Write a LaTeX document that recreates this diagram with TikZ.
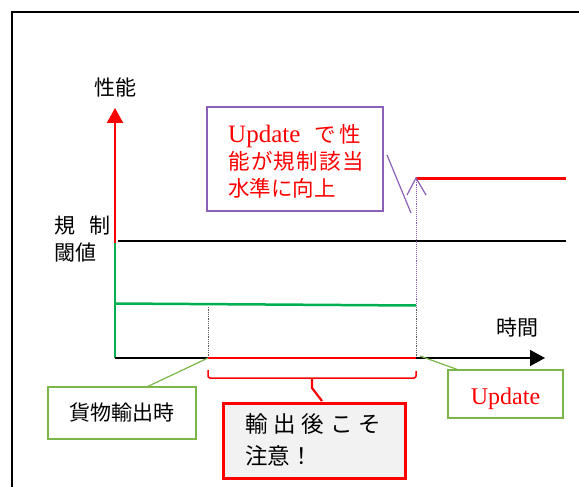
\documentclass[tikz,border=0pt]{standalone}
\usepackage{fontspec}
\setmainfont{Liberation Serif}
\newfontfamily\jp{Noto Sans CJK JP}
\usetikzlibrary{arrows.meta}
\definecolor{xred}{HTML}{FF0000}
\definecolor{xgreen}{HTML}{00B050}
\definecolor{cgreen}{HTML}{7AB648}
\definecolor{xpurple}{RGB}{140,95,185}
\definecolor{xgray}{HTML}{F2F2F2}
\tikzset{
  jptext/.style={font=\jp\fontsize{21}{27}\selectfont, inner sep=0pt},
  callgreen/.style={draw=cgreen, line width=1.3pt, inner sep=0pt},
  tipbig/.style={-{Triangle[width=16pt,length=15pt]}},
}
\begin{document}
\begin{tikzpicture}[x=1pt,y=-1pt]
\useasboundingbox (0,0) rectangle (579,487);
\begin{scope}
\clip (0,0) rectangle (579,487);
\draw[line width=2pt] (12,12) rectangle (620,530);
\end{scope}

% key coordinates
\coordinate (O) at (115,358);
\coordinate (T0) at (208,358);
\coordinate (T1) at (416,358);
\coordinate (Ytop) at (115,108);
\coordinate (Ymid) at (115,243);
\coordinate (Xend) at (545,358);
\coordinate (TH0) at (118,241);
\coordinate (TH1) at (566,241);
\coordinate (G0) at (115,303.5);
\coordinate (G1) at (416,305.5);
\coordinate (U0) at (416,178);
\coordinate (U1) at (566,178);

% threshold line
\draw[line width=1.2pt] (TH0) -- (TH1);
% dotted verticals
\draw[densely dotted, gray!70!black, line width=0.8pt] (T0) -- (208,306);
\draw[densely dotted, gray!70!black, line width=0.8pt] (T1) -- (416,306);
\draw[densely dotted, xpurple, line width=0.9pt] (416,306) -- (U0);
% green performance line
\draw[xgreen, line width=2.5pt] (G0) -- (G1);
% red improved line
\draw[xred, line width=3pt] (U0) -- (U1);
% y axis
\draw[xgreen, line width=2pt] (O) -- (Ymid);
\draw[xred, line width=2pt, tipbig] (Ymid) -- (Ytop);
% x axis
\draw[line width=1.5pt] (O) -- (T0);
\draw[xred, line width=1.5pt] (T0) -- (T1);
\draw[line width=1.5pt, tipbig] (T1) -- (Xend);

% labels
\node[jptext] (perf) at (115,87) {性能};
\node[jptext] (time) at (517,328) {時間};
\node[jptext, anchor=west, align=left] (thr) at (54,239) {規\hspace{14pt}制\\閾値};

% purple callout
\node[draw=xpurple, line width=1.2pt, minimum width=176pt, minimum height=104pt, inner sep=0pt] (pbox) at (295,159) {};
\node[anchor=west, inner sep=0pt, align=left, text=xred, font=\jp\fontsize{21.5}{27}\selectfont] (ptext) at (228,161)
 {\makebox[136pt][l]{{\rmfamily\fontsize{25}{27}\selectfont Update}\hspace{14pt}で\hspace{4pt}性}\\%
\makebox[136pt][s]{能\hfill が\hfill 規\hfill 制\hfill 該\hfill 当}\\%
\makebox[136pt][l]{水準に向上}};
\coordinate (p0) at (387,155);
\coordinate (p1) at (411,213);
\coordinate (a0) at (407,195);
\coordinate (a1) at (426,195);
\draw[xpurple, line width=1.2pt] (p0) -- (p1);
\draw[xpurple, line width=1.2pt] (a0) -- (U0) -- (a1);

% green callout: export time
\node[callgreen, minimum width=148pt, minimum height=52pt, font=\jp\fontsize{21}{24}\selectfont] (c1) at (122,413) {貨物輸出時};
\draw[cgreen, line width=1.2pt] (c1.north -| 148,0) -- (T0);

% green callout: Update
\node[callgreen, minimum width=115pt, minimum height=48pt] (c2) at (505.5,394) {};
\node[text=xred, font=\rmfamily\fontsize{24}{28}\selectfont, inner sep=0pt] (c2t) at (505.5,399) {Update};
\draw[cgreen, line width=1.2pt] (c2.north -| 457,0) -- ([xshift=4pt,yshift=2pt]T1);

% red bracket
\coordinate (b0) at (208,370);
\coordinate (b1) at (416,371);
\coordinate (bm) at (312,378);
\draw[xred, line width=1.5pt, rounded corners=2pt] (b0) -- (208,378) -- (416,378) -- (b1);
\draw[xred, line width=2.2pt] (bm) -- (312,388) -- (322,401);

% red box
\node[draw=xred, fill=xgray, line width=3pt, minimum width=182pt, minimum height=75pt, inner sep=0pt] (rbox) at (314,440.5) {};
\node[anchor=west, inner sep=0pt, align=left, font=\jp\fontsize{22.5}{32}\selectfont] (rtext) at (245,440)
 {\makebox[136pt][s]{輸\hfill 出\hfill 後\hfill こ\hfill そ}\\%
\makebox[136pt][l]{注意！}};
\end{tikzpicture}
\end{document}
